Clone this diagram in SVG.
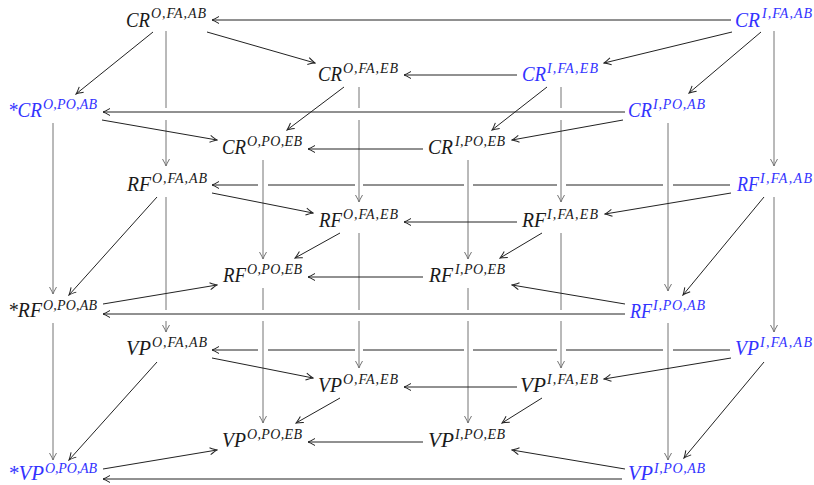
<svg xmlns="http://www.w3.org/2000/svg" width="814" height="485" viewBox="0 0 814 485">
<style>
.m{font-family:"Liberation Serif",serif;font-style:italic;font-size:22px}
.s{font-family:"Liberation Serif",serif;font-style:italic;font-size:14px}
.k{fill:#1a1a1a}
.b{fill:#3333ff}
.e{fill:none;stroke:#222;stroke-width:1;marker-end:url(#ah)}
.v{fill:none;stroke:#747474;stroke-width:1;marker-end:url(#ahg)}
</style>
<defs>
<marker id="ah" viewBox="-9 -5 10 10" refX="0" refY="0" markerWidth="10" markerHeight="10" markerUnits="userSpaceOnUse" orient="auto"><path d="M-7,-3.5 Q-2,-0.6 0,0 Q-2,0.6 -7,3.5" fill="none" stroke="#222" stroke-width="1"/></marker>
<marker id="ahg" viewBox="-9 -5 10 10" refX="0" refY="0" markerWidth="10" markerHeight="10" markerUnits="userSpaceOnUse" orient="auto"><path d="M-7,-3.5 Q-2,-0.6 0,0 Q-2,0.6 -7,3.5" fill="none" stroke="#747474" stroke-width="1"/></marker>
</defs>
<g id="connectors">
<path class="v" d="M166,31 V108 M166,120 V166"/>
<path class="v" d="M53,123 V294"/>
<path class="v" d="M359,87 V108 M359,120 V202"/>
<path class="v" d="M263,160 V259"/>
<path class="v" d="M561,87 V108 M561,120 V202"/>
<path class="v" d="M468,160 V259"/>
<path class="v" d="M668,123 V291"/>
<path class="v" d="M774,31 V166"/>
<path class="v" d="M166,197 V310 M166,321 V332"/>
<path class="v" d="M53,323 V460"/>
<path class="v" d="M359,233 V310 M359,321 V368"/>
<path class="v" d="M263,288 V310 M263,321 V423"/>
<path class="v" d="M561,233 V310 M561,321 V368"/>
<path class="v" d="M468,288 V310 M468,321 V423"/>
<path class="v" d="M668,323 V460"/>
<path class="v" d="M774,197 V332"/>
<path class="e" d="M731,20 H212"/>
<path class="e" d="M207,32 L315,63"/>
<path class="e" d="M153,32 L76,94"/>
<path class="e" d="M517,75 H404"/>
<path class="e" d="M732,32 L604,63"/>
<path class="e" d="M761,32 L689,93"/>
<path class="e" d="M625,112 H103"/>
<path class="e" d="M344,87 L287,130"/>
<path class="e" d="M102,120 L217,140"/>
<path class="e" d="M423,149 H308"/>
<path class="e" d="M547,87 L492,130"/>
<path class="e" d="M623,120 L512,140"/>
<path class="e" d="M730,185 H673 M663,185 H566 M557,185 H473 M464,185 H363 M355,185 H268 M258,185 H212"/>
<path class="e" d="M212,193 L313,213"/>
<path class="e" d="M157,197 L69,295"/>
<path class="e" d="M517,222 H404"/>
<path class="e" d="M731,193 L605,214"/>
<path class="e" d="M764,197 L683,295"/>
<path class="e" d="M340,233 L295,258"/>
<path class="e" d="M542,233 L500,258"/>
<path class="e" d="M423,277 H308"/>
<path class="e" d="M103,304 L217,285"/>
<path class="e" d="M625,304 L512,285"/>
<path class="e" d="M625,314 H103"/>
<path class="e" d="M730,350 H673 M663,350 H566 M557,350 H473 M464,350 H363 M355,350 H268 M258,350 H212"/>
<path class="e" d="M212,358 L313,378"/>
<path class="e" d="M157,362 L69,460"/>
<path class="e" d="M517,387 H404"/>
<path class="e" d="M731,358 L604,379"/>
<path class="e" d="M764,362 L684,458"/>
<path class="e" d="M340,398 L296,423"/>
<path class="e" d="M542,398 L502,423"/>
<path class="e" d="M423,442 H308"/>
<path class="e" d="M103,469 L217,450"/>
<path class="e" d="M625,469 L512,450"/>
<path class="e" d="M622,479 H103"/>
</g>
<g id="cr-o-fa-ab" class="k"><text class="m" x="126" y="27" textLength="24" lengthAdjust="spacingAndGlyphs">CR</text><text class="s" x="151" y="18" textLength="55" lengthAdjust="spacing">O,FA,AB</text></g>
<g id="cr-i-fa-ab" class="b"><text class="m" x="735" y="27" textLength="25" lengthAdjust="spacingAndGlyphs">CR</text><text class="s" x="762" y="18" textLength="50" lengthAdjust="spacing">I,FA,AB</text></g>
<g id="cr-o-fa-eb" class="k"><text class="m" x="318" y="81" textLength="24" lengthAdjust="spacingAndGlyphs">CR</text><text class="s" x="343" y="73" textLength="55" lengthAdjust="spacing">O,FA,EB</text></g>
<g id="cr-i-fa-eb" class="b"><text class="m" x="522" y="81" textLength="24" lengthAdjust="spacingAndGlyphs">CR</text><text class="s" x="547" y="73" textLength="51" lengthAdjust="spacing">I,FA,EB</text></g>
<g id="cr-o-po-ab" class="b"><text class="m" x="8" y="117" textLength="34" lengthAdjust="spacingAndGlyphs">*CR</text><text class="s" x="43" y="109" textLength="54" lengthAdjust="spacing">O,PO,AB</text></g>
<g id="cr-i-po-ab" class="b"><text class="m" x="628" y="117" textLength="24" lengthAdjust="spacingAndGlyphs">CR</text><text class="s" x="653" y="109" textLength="52" lengthAdjust="spacing">I,PO,AB</text></g>
<g id="cr-o-po-eb" class="k"><text class="m" x="222" y="154" textLength="24" lengthAdjust="spacingAndGlyphs">CR</text><text class="s" x="247" y="146" textLength="55" lengthAdjust="spacing">O,PO,EB</text></g>
<g id="cr-i-po-eb" class="k"><text class="m" x="428" y="154" textLength="25" lengthAdjust="spacingAndGlyphs">CR</text><text class="s" x="455" y="146" textLength="50" lengthAdjust="spacing">I,PO,EB</text></g>
<g id="rf-o-fa-ab" class="k"><text class="m" x="127" y="191" textLength="24" lengthAdjust="spacingAndGlyphs">RF</text><text class="s" x="152" y="183" textLength="55" lengthAdjust="spacing">O,FA,AB</text></g>
<g id="rf-i-fa-ab" class="b"><text class="m" x="737" y="191" textLength="22" lengthAdjust="spacingAndGlyphs">RF</text><text class="s" x="760" y="183" textLength="52" lengthAdjust="spacing">I,FA,AB</text></g>
<g id="rf-o-fa-eb" class="k"><text class="m" x="319" y="227" textLength="23" lengthAdjust="spacingAndGlyphs">RF</text><text class="s" x="343" y="219" textLength="55" lengthAdjust="spacing">O,FA,EB</text></g>
<g id="rf-i-fa-eb" class="k"><text class="m" x="522" y="227" textLength="24" lengthAdjust="spacingAndGlyphs">RF</text><text class="s" x="547" y="219" textLength="51" lengthAdjust="spacing">I,FA,EB</text></g>
<g id="rf-o-po-eb" class="k"><text class="m" x="223" y="282" textLength="23" lengthAdjust="spacingAndGlyphs">RF</text><text class="s" x="247" y="274" textLength="55" lengthAdjust="spacing">O,PO,EB</text></g>
<g id="rf-i-po-eb" class="k"><text class="m" x="429" y="282" textLength="24" lengthAdjust="spacingAndGlyphs">RF</text><text class="s" x="455" y="274" textLength="50" lengthAdjust="spacing">I,PO,EB</text></g>
<g id="rf-o-po-ab" class="k"><text class="m" x="8" y="317" textLength="34" lengthAdjust="spacingAndGlyphs">*RF</text><text class="s" x="43" y="310" textLength="54" lengthAdjust="spacing">O,PO,AB</text></g>
<g id="rf-i-po-ab" class="b"><text class="m" x="630" y="318" textLength="22" lengthAdjust="spacingAndGlyphs">RF</text><text class="s" x="653" y="310" textLength="52" lengthAdjust="spacing">I,PO,AB</text></g>
<g id="vp-o-fa-ab" class="k"><text class="m" x="126" y="355" textLength="25" lengthAdjust="spacingAndGlyphs">VP</text><text class="s" x="152" y="347" textLength="55" lengthAdjust="spacing">O,FA,AB</text></g>
<g id="vp-i-fa-ab" class="b"><text class="m" x="735" y="355" textLength="24" lengthAdjust="spacingAndGlyphs">VP</text><text class="s" x="760" y="347" textLength="52" lengthAdjust="spacing">I,FA,AB</text></g>
<g id="vp-o-fa-eb" class="k"><text class="m" x="318" y="392" textLength="24" lengthAdjust="spacingAndGlyphs">VP</text><text class="s" x="343" y="384" textLength="55" lengthAdjust="spacing">O,FA,EB</text></g>
<g id="vp-i-fa-eb" class="k"><text class="m" x="520" y="392" textLength="26" lengthAdjust="spacingAndGlyphs">VP</text><text class="s" x="547" y="384" textLength="51" lengthAdjust="spacing">I,FA,EB</text></g>
<g id="vp-o-po-eb" class="k"><text class="m" x="222" y="447" textLength="24" lengthAdjust="spacingAndGlyphs">VP</text><text class="s" x="247" y="439" textLength="55" lengthAdjust="spacing">O,PO,EB</text></g>
<g id="vp-i-po-eb" class="k"><text class="m" x="428" y="447" textLength="26" lengthAdjust="spacingAndGlyphs">VP</text><text class="s" x="455" y="439" textLength="50" lengthAdjust="spacing">I,PO,EB</text></g>
<g id="vp-o-po-ab" class="b"><text class="m" x="8" y="480" textLength="36" lengthAdjust="spacingAndGlyphs">*VP</text><text class="s" x="45" y="473" textLength="52" lengthAdjust="spacing">O,PO,AB</text></g>
<g id="vp-i-po-ab" class="b"><text class="m" x="628" y="480" textLength="25" lengthAdjust="spacingAndGlyphs">VP</text><text class="s" x="654" y="473" textLength="51" lengthAdjust="spacing">I,PO,AB</text></g>
</svg>
